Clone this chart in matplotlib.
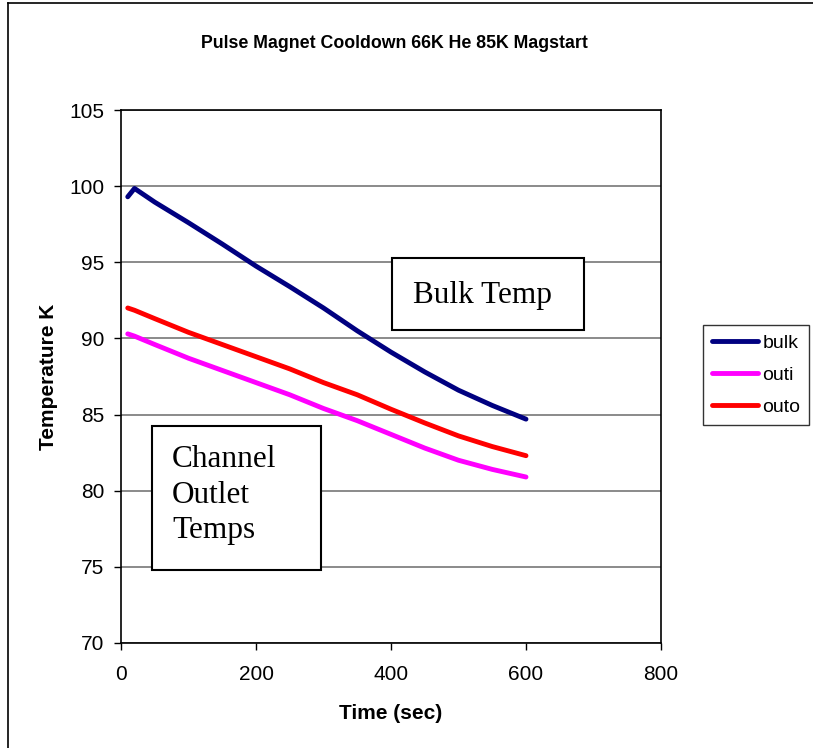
import numpy as np
import matplotlib.pyplot as plt
from matplotlib.patches import Rectangle

# time (sec) and temperatures (K)
time_s = [10, 20, 50, 100, 150, 200, 250, 300, 350, 400, 450, 500, 550, 600]
bulk = [99.3, 99.85, 98.95, 97.6, 96.2, 94.75, 93.4, 92.0, 90.5, 89.1, 87.8, 86.6, 85.6, 84.7]
outi = [90.3, 90.15, 89.6, 88.7, 87.9, 87.1, 86.3, 85.4, 84.6, 83.7, 82.8, 82.0, 81.4, 80.9]
outo = [92.0, 91.85, 91.3, 90.4, 89.6, 88.8, 88.0, 87.1, 86.3, 85.35, 84.45, 83.6, 82.9, 82.3]

series = [('bulk', bulk, '#000080'), ('outi', outi, '#ff00ff'), ('outo', outo, '#ff0000')]

bulk_note = 'Bulk Temp'
channel_note = ['Channel', 'Outlet', 'Temps']

W, H = 813, 748
fig = plt.figure(figsize=(W / 100, H / 100), dpi=100)
plt.rcParams['font.family'] = ['Liberation Sans', 'DejaVu Sans']

def fx(px):
    return px / W

def fy(py):
    return 1 - py / H

# outer chart border (only left and top fall inside the picture)
fig.add_artist(plt.Line2D([fx(8), fx(8)], [fy(3), 0], color='black', lw=1.2))
fig.add_artist(plt.Line2D([fx(8), 1], [fy(3), fy(3)], color='black', lw=1.2))

ax = fig.add_axes([fx(121), fy(643), fx(661) - fx(121), fy(110) - fy(643)])

for name, vals, col in series:
    ax.plot(time_s, vals, color=col, lw=3.5, label=name, solid_capstyle='round', zorder=3)

ax.set_xlim(0, 800)
ax.set_ylim(70, 105)
ax.set_xticks(np.arange(0, 801, 200))
ax.set_yticks(np.arange(70, 106, 5))
ax.yaxis.grid(True, color='#777777', lw=1.2)
ax.set_axisbelow(True)
for sp in ax.spines.values():
    sp.set_color('black')
    sp.set_linewidth(1.2)
ax.tick_params(direction='out', length=5, width=1, labelsize=15, pad=7)
ax.tick_params(axis='x', pad=11)
ax.set_xlabel('Time (sec)', fontsize=15, fontweight='bold', labelpad=14)
ax.set_ylabel('Temperature K', fontsize=15, fontweight='bold', labelpad=8)

fig.text(fx(394), fy(43), 'Pulse Magnet Cooldown 66K He 85K Magstart',
         ha='center', va='center', fontsize=12.8, fontweight='bold')

# text boxes
fig.add_artist(Rectangle((fx(392), fy(330)), fx(584) - fx(392), fy(258) - fy(330),
                         transform=fig.transFigure, fill=True, facecolor='white',
                         edgecolor='black', lw=1.5, zorder=5))
fig.text(fx(413), fy(303), bulk_note, ha='left', va='baseline', fontsize=22.5,
         family=['Liberation Serif'], zorder=6)

fig.add_artist(Rectangle((fx(152), fy(570)), fx(321) - fx(152), fy(426) - fy(570),
                         transform=fig.transFigure, fill=True, facecolor='white',
                         edgecolor='black', lw=1.5, zorder=5))
for i, line in enumerate(channel_note):
    fig.text(fx(172), fy(467 + 35.7 * i), line, ha='left', va='baseline',
             fontsize=22.5, family=['Liberation Serif'], zorder=6)

leg = fig.legend(loc='center left', bbox_to_anchor=(fx(703), fy(375)), fontsize=14,
                 frameon=True, fancybox=False, edgecolor='black', handlelength=2.4,
                 handletextpad=0.2, borderpad=0.45, labelspacing=0.75, borderaxespad=0)
leg.get_frame().set_linewidth(1)

fig.savefig('out.png', dpi=100)
